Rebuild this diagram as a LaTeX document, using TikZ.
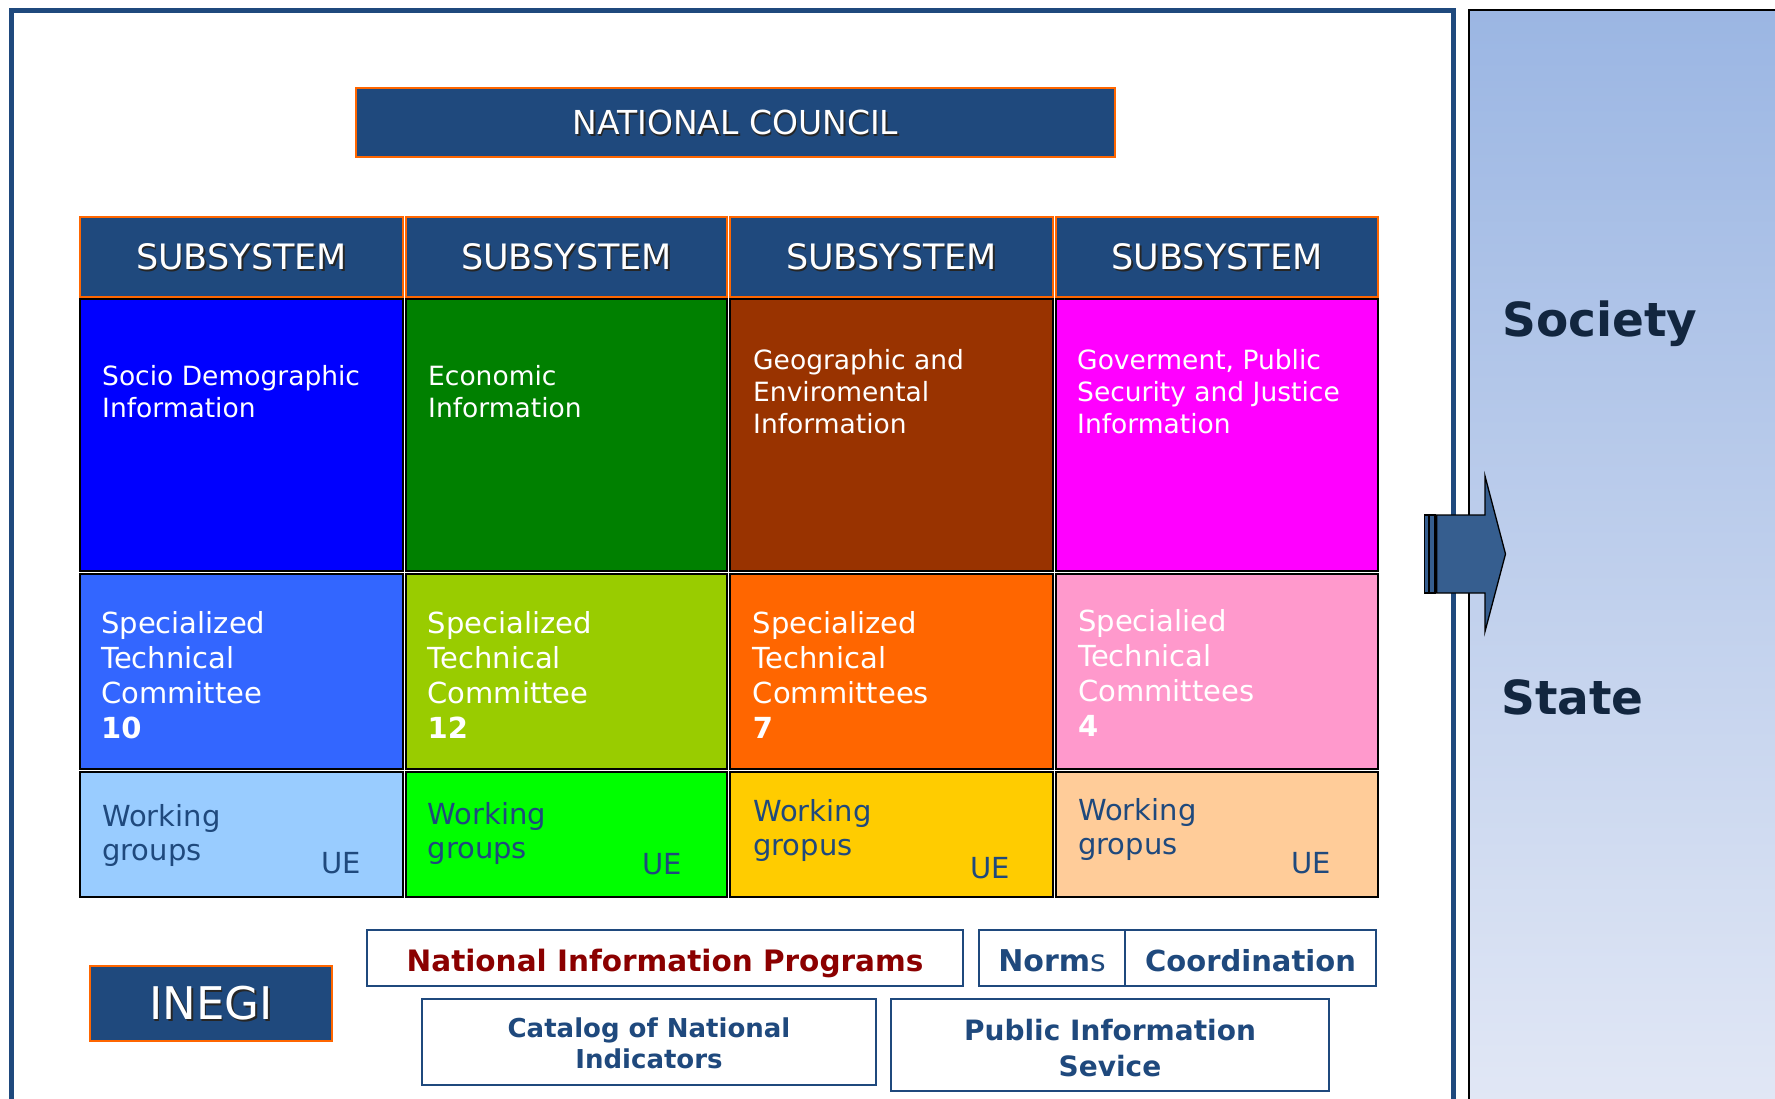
\documentclass[tikz,border=0pt]{standalone}
\usepackage{fontspec}
\setmainfont{DejaVu Sans}
\definecolor{navy}{HTML}{1F497D}
\definecolor{orng}{HTML}{FF6600}
\definecolor{ra}{HTML}{0000FF}
\definecolor{rb}{HTML}{008000}
\definecolor{rc}{HTML}{993300}
\definecolor{rd}{HTML}{FF00FF}
\definecolor{sa}{HTML}{3366FF}
\definecolor{sb}{HTML}{99CC00}
\definecolor{sc}{HTML}{FF6600}
\definecolor{sd}{HTML}{FF99CC}
\definecolor{wa}{HTML}{99CCFF}
\definecolor{wb}{HTML}{00FF00}
\definecolor{wc}{HTML}{FFCC00}
\definecolor{wd}{HTML}{FFCC99}
\definecolor{nipred}{HTML}{8B0000}
\definecolor{ptop}{HTML}{9BB6E3}
\definecolor{pbot}{HTML}{E1E7F5}
\definecolor{dark}{HTML}{12263F}
\definecolor{arrowblue}{HTML}{365E8F}
\newcommand\shd[1]{\rlap{\kern1.6pt\raisebox{-1.6pt}{\color{black!85}#1}}#1}
\newcommand\vl[2]{\vtop{\baselineskip=#1pt\relax #2}}
\newcommand\cl[1]{\hbox to 0pt{\hss #1\hss}}
\newcommand\fs[1]{\fontsize{#1}{#1}\selectfont}
\begin{document}
\begin{tikzpicture}[x=1pt,y=-1pt,
  hdr/.style={draw=orng, line width=2pt, fill=navy, text=white, inner sep=0pt, text depth=0pt},
  cell/.style={draw=black, line width=2pt, inner sep=0pt},
  wtxt/.style={anchor=base west, inner sep=0pt, text=white},
  ntxt/.style={anchor=base west, inner sep=0pt, text=navy},
  btx/.style={draw=navy, line width=2.5pt, fill=white, inner sep=0pt},
  arrowpart/.style={fill=arrowblue, draw=black, line width=1.3pt, line join=miter}]
\useasboundingbox (0,0) rectangle (1775,1098);
\clip (0,0) rectangle (1775,1098);
\fill[white] (0,0) rectangle (1775,1098);

% outer frame
\draw[navy, line width=5pt] (11,1120) -- (11,10.5) -- (1453.5,10.5) -- (1453.5,1120);

% right panel
\draw[black, line width=2pt, top color=ptop, bottom color=pbot] (1469,10) rectangle (1800,1100);
\node[anchor=base west, inner sep=0pt, text=dark, font=\bfseries\fs{47}] (soc) at (1502,336) {Society};
\node[anchor=base west, inner sep=0pt, text=dark, font=\bfseries\fs{47}] (sta) at (1501,714) {State};

% arrow
\draw[arrowpart] (1424.3,515) rectangle (1428.3,593);
\draw[arrowpart] (1429.6,515) rectangle (1435,593);
\draw[arrowpart] (1436.7,515) -- (1485,515) -- (1485,476) -- (1505.5,554) -- (1485,631.5) -- (1485,593) -- (1436.7,593) -- cycle;

% national council
\node[hdr, minimum width=759pt, minimum height=69pt, text height=24pt, font=\fs{33}] (nc) at (735.5,122.5) {\shd{NATIONAL COUNCIL}};

% subsystem headers
\node[hdr, minimum width=323pt, minimum height=80pt, text height=25.5pt, font=\fs{35}] (h1) at (241.5,257) {\shd{SUBSYSTEM}};
\node[hdr, minimum width=321pt, minimum height=80pt, text height=25.5pt, font=\fs{35}] (h2) at (566.5,257) {\shd{SUBSYSTEM}};
\node[hdr, minimum width=323pt, minimum height=80pt, text height=25.5pt, font=\fs{35}] (h3) at (891.5,257) {\shd{SUBSYSTEM}};
\node[hdr, minimum width=322pt, minimum height=80pt, text height=25.5pt, font=\fs{35}] (h4) at (1217,257) {\shd{SUBSYSTEM}};

% row 1
\node[cell, fill=ra, minimum width=323pt, minimum height=272pt] (a1) at (241.5,435) {};
\node[cell, fill=rb, minimum width=321pt, minimum height=272pt] (a2) at (566.5,435) {};
\node[cell, fill=rc, minimum width=323pt, minimum height=272pt] (a3) at (891.5,435) {};
\node[cell, fill=rd, minimum width=322pt, minimum height=272pt] (a4) at (1217,435) {};
\node[wtxt, font=\fs{26.5}] (a1t) at (102,385) {\vl{32}{\hbox{Socio Demographic}\hbox{Information}}};
\node[wtxt, font=\fs{26.5}] (a2t) at (428,385) {\vl{32}{\hbox{Economic}\hbox{Information}}};
\node[wtxt, font=\fs{26.5}] (a3t) at (753,369) {\vl{32}{\hbox{Geographic and}\hbox{Enviromental}\hbox{Information}}};
\node[wtxt, font=\fs{26.5}] (a4t) at (1077,369) {\vl{32}{\hbox{Goverment, Public}\hbox{Security and Justice}\hbox{Information}}};

% row 2
\node[cell, fill=sa, minimum width=323pt, minimum height=195pt] (b1) at (241.5,671.5) {};
\node[cell, fill=sb, minimum width=321pt, minimum height=195pt] (b2) at (566.5,671.5) {};
\node[cell, fill=sc, minimum width=323pt, minimum height=195pt] (b3) at (891.5,671.5) {};
\node[cell, fill=sd, minimum width=322pt, minimum height=195pt] (b4) at (1217,671.5) {};
\node[wtxt, font=\fs{29}] (b1t) at (101,633) {\vl{35}{\hbox{Specialized}\hbox{Technical}\hbox{Committee}\hbox{\bfseries 10}}};
\node[wtxt, font=\fs{29}] (b2t) at (427.5,633) {\vl{35}{\hbox{Specialized}\hbox{Technical}\hbox{Committee}\hbox{\bfseries 12}}};
\node[wtxt, font=\fs{29}] (b3t) at (752.7,633) {\vl{35}{\hbox{Specialized}\hbox{Technical}\hbox{Committees}\hbox{\bfseries 7}}};
\node[wtxt, font=\fs{29}] (b4t) at (1078,631) {\vl{35}{\hbox{Specialied}\hbox{Technical}\hbox{Committees}\hbox{\bfseries 4}}};

% row 3
\node[cell, fill=wa, minimum width=323pt, minimum height=125pt] (c1) at (241.5,834.5) {};
\node[cell, fill=wb, minimum width=321pt, minimum height=125pt] (c2) at (566.5,834.5) {};
\node[cell, fill=wc, minimum width=323pt, minimum height=125pt] (c3) at (891.5,834.5) {};
\node[cell, fill=wd, minimum width=322pt, minimum height=125pt] (c4) at (1217,834.5) {};
\node[ntxt, font=\fs{29}] (c1t) at (102,826) {\vl{34}{\hbox{Working}\hbox{groups}}};
\node[ntxt, font=\fs{29}] (c2t) at (427.5,824) {\vl{34}{\hbox{Working}\hbox{groups}}};
\node[ntxt, font=\fs{29}] (c3t) at (753,821) {\vl{34}{\hbox{Working}\hbox{gropus}}};
\node[ntxt, font=\fs{29}] (c4t) at (1078,820) {\vl{34}{\hbox{Working}\hbox{gropus}}};
\node[ntxt, font=\fs{29}] (c1u) at (321,873) {UE};
\node[ntxt, font=\fs{29}] (c2u) at (642,874) {UE};
\node[ntxt, font=\fs{29}] (c3u) at (970,878) {UE};
\node[ntxt, font=\fs{29}] (c4u) at (1291,873) {UE};

% INEGI
\node[hdr, minimum width=242pt, minimum height=75pt, text height=32.8pt, font=\fs{45}] (inegi) at (211,1003.5) {\shd{INEGI}};

% bottom boxes
\node[btx, minimum width=596pt, minimum height=56pt, text=nipred, text height=26pt, text depth=0pt, font=\bfseries\fs{29.5}] (nip) at (665,958) {National Information Programs};
\node[btx, minimum width=146pt, minimum height=56pt, text=navy, text height=26pt, text depth=0pt, font=\fs{30}] (norms) at (1052,958) {\textbf{Norm}s};
\node[btx, minimum width=251pt, minimum height=56pt, text=navy, text height=26pt, text depth=0pt, font=\bfseries\fs{29}] (coord) at (1250.5,958) {Coordination};
\node[btx, minimum width=454pt, minimum height=86pt] (cat) at (649,1042) {};
\node[anchor=base, inner sep=0pt, text=navy, font=\bfseries\fs{26}] (catt) at (649,1037) {\vl{31}{\cl{Catalog of National}\cl{Indicators}}};
\node[btx, minimum width=438pt, minimum height=92pt] (pis) at (1110,1045) {};
\node[anchor=base, inner sep=0pt, text=navy, font=\bfseries\fs{28}] (pist) at (1110,1040) {\vl{36}{\cl{Public Information}\cl{Sevice}}};
\end{tikzpicture}
\end{document}
